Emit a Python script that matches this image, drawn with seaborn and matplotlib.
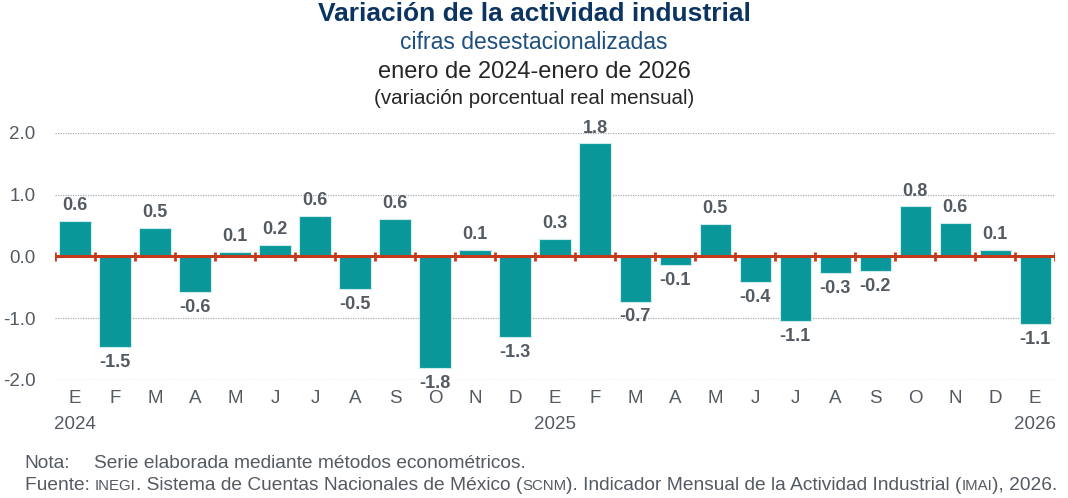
import numpy as np
import pandas as pd
import matplotlib
matplotlib.use("Agg")
import matplotlib.pyplot as plt
import seaborn as sns

# values (monthly % change, seasonally adjusted)
periodos = ["2024-01", "2024-02", "2024-03", "2024-04", "2024-05", "2024-06",
            "2024-07", "2024-08", "2024-09", "2024-10", "2024-11", "2024-12",
            "2025-01", "2025-02", "2025-03", "2025-04", "2025-05", "2025-06",
            "2025-07", "2025-08", "2025-09", "2025-10", "2025-11", "2025-12",
            "2026-01"]
meses = ["E", "F", "M", "A", "M", "J", "J", "A", "S", "O", "N", "D",
         "E", "F", "M", "A", "M", "J", "J", "A", "S", "O", "N", "D", "E"]
variacion = [0.57, -1.47, 0.46, -0.57, 0.07, 0.19, 0.65, -0.53, 0.60, -1.80,
             0.11, -1.31, 0.29, 1.83, -0.73, -0.14, 0.53, -0.41, -1.05, -0.27,
             -0.23, 0.81, 0.55, 0.10, -1.10]
etiquetas = ["0.6", "-1.5", "0.5", "-0.6", "0.1", "0.2", "0.6", "-0.5", "0.6", "-1.8",
             "0.1", "-1.3", "0.3", "1.8", "-0.7", "-0.1", "0.5", "-0.4", "-1.1", "-0.3",
             "-0.2", "0.8", "0.6", "0.1", "-1.1"]
anios = {0: "2024", 12: "2025", 24: "2026"}

df = pd.DataFrame({"periodo": periodos, "variacion": variacion})

sns.set_theme(style="white")
plt.rcParams["font.family"] = ["Liberation Sans", "DejaVu Sans"]

teal = "#0a9799"
rojo = "#c63a1c"
gris = "#545a61"
navy = "#0b3560"

fig = plt.figure(figsize=(10.68, 4.98), dpi=100)
ax = fig.add_axes([0.0515, 0.237, 0.9365, 0.496])

sns.barplot(data=df, x="periodo", y="variacion", color=teal, saturation=1,
            width=0.78, edgecolor="#cdeceb", linewidth=0.8, ax=ax, zorder=3)

ax.set_xlim(-0.5, len(periodos) - 0.5)
ax.set_ylim(-2.0, 2.0)
ax.set_yticks([-2, -1, 0, 1, 2])
ax.set_yticklabels(["-2.0", "-1.0", "0.0", "1.0", "2.0"], fontsize=13.5, color=gris)
ax.tick_params(axis="y", length=0, pad=14)

for y in [-2, -1, 1, 2]:
    ax.axhline(y, color="#a7adb3", lw=0.9, ls=(0, (1, 1)), zorder=1)
ax.axhline(0, color=rojo, lw=2.2, zorder=4)
bordes = np.arange(len(periodos) + 1) - 0.5
ax.vlines(bordes, -0.075, 0.075, color=rojo, lw=2, zorder=4)

xt = []
for i, m in enumerate(meses):
    xt.append(m + ("\n" + anios[i] if i in anios else ""))
ax.set_xticks(range(len(periodos)))
ax.set_xticklabels(xt, fontsize=13.5, color=gris, linespacing=1.7, va="top")
ax.tick_params(axis="x", length=0, pad=7)
ax.set_xlabel("")
ax.set_ylabel("")
sns.despine(ax=ax, left=True, bottom=True)

for i, (v, t) in enumerate(zip(variacion, etiquetas)):
    if v >= 0:
        ax.annotate(t, (i, v), xytext=(0, 5), textcoords="offset points",
                    ha="center", va="bottom", fontsize=13, fontweight="bold",
                    color=gris, annotation_clip=False)
    else:
        ax.annotate(t, (i, v), xytext=(0, -5), textcoords="offset points",
                    ha="center", va="top", fontsize=13, fontweight="bold",
                    color=gris, annotation_clip=False)

narrow = ["Liberation Sans Narrow", "Liberation Sans", "DejaVu Sans"]
fig.text(0.5, 0.972, "Variación de la actividad industrial", ha="center", va="center",
         fontsize=19, fontweight="bold", color=navy, family=narrow)
fig.text(0.5, 0.914, "cifras desestacionalizadas", ha="center", va="center",
         fontsize=16.5, color="#1d4f80", family=narrow)
fig.text(0.5, 0.856, "enero de 2024-enero de 2026", ha="center", va="center",
         fontsize=17, color="#262626", family=narrow)
fig.text(0.5, 0.803, "(variación porcentual real mensual)", ha="center", va="center",
         fontsize=14.8, color="#262626", family=narrow)

# footnotes, with small caps for the acronyms
fig.text(0.023, 0.06, "Nota:", fontsize=13.8, color=gris, va="baseline")
fig.text(0.088, 0.06, "Serie elaborada mediante métodos econométricos.",
         fontsize=13.8, color=gris, va="baseline")
piezas = [("Fuente: ", 13.8), ("INEGI", 10.8), (". Sistema de Cuentas Nacionales de México (", 13.8),
          ("SCNM", 10.8), ("). Indicador Mensual de la Actividad Industrial (", 13.8),
          ("IMAI", 10.8), ("), 2026.", 13.8)]
fig.canvas.draw()
r = fig.canvas.get_renderer()
x = 0.023
for txt, fs in piezas:
    t = fig.text(x, 0.016, txt, fontsize=fs, color=gris, va="baseline")
    bb = t.get_window_extent(renderer=r)
    x = bb.x1 / fig.bbox.width

fig.savefig("out.png", dpi=100, facecolor="white")
